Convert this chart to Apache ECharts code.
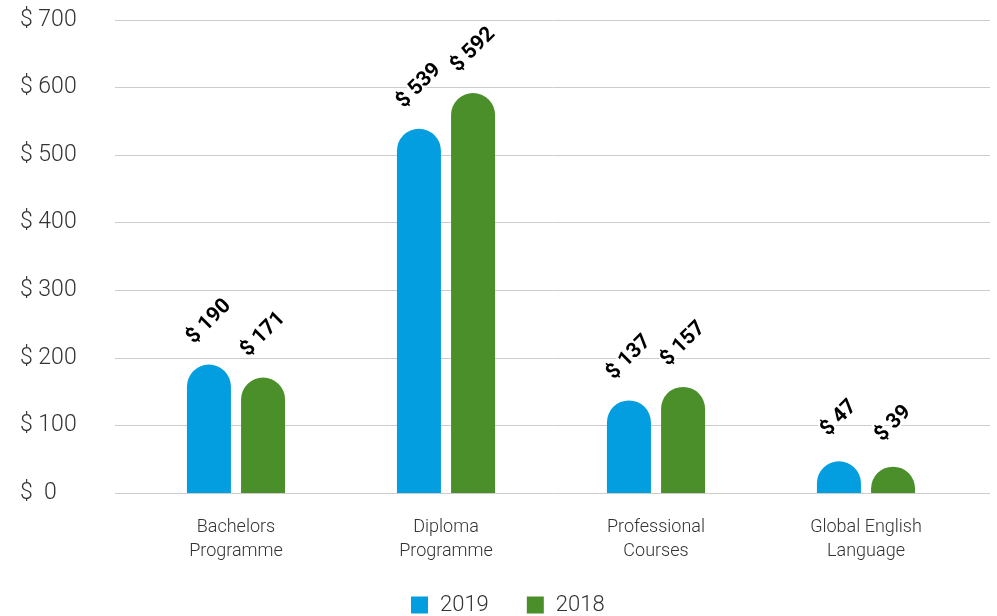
<!DOCTYPE html>
<html>
<head>
<meta charset="utf-8">
<script src="https://cdn.jsdelivr.net/npm/echarts@6/dist/echarts.min.js"></script>
<style>
html, body { margin: 0; padding: 0; background: #fff; }
#chart { width: 997px; height: 616px; }
</style>
</head>
<body>
<div id="chart"></div>
<script>
var categories = ['Bachelors\nProgramme', 'Diploma\nProgramme', 'Professional\nCourses', 'Global English\nLanguage'];
var values2019 = [190, 539, 137, 47];
var values2018 = [171, 592, 157, 39];
var yTicks = [0, 100, 200, 300, 400, 500, 600, 700];

var chart = echarts.init(document.getElementById('chart'));

// labels over the bars
var barLabel = {
	show: true,
	position: 'top',
	distance: 43,
	rotate: 45,
	align: 'center',
	verticalAlign: 'middle',
	formatter: function (p) { return '$ ' + p.value; },
	fontFamily: 'Roboto',
	fontWeight: 'bold',
	fontSize: 21,
	color: '#000',
	textBorderColor: '#fff',
	textBorderWidth: 4
};

var option = {
	animation: false,
	textStyle: { fontFamily: 'Roboto' },
	legend: {
		data: ['2019', '2018'],
		top: 589,
		left: 406,
		icon: 'rect',
		itemWidth: 17,
		itemHeight: 17,
		itemGap: 38,
		textStyle: { fontSize: 22, fontWeight: 300, color: '#333', fontFamily: 'Roboto', padding: [0, 0, 0, 7] }
	},
	grid: [
		{ left: 115, right: 7, top: 20, bottom: 123 },  // gridlines
		{ left: 131, right: 26, top: 20, bottom: 123 }  // bars
	],
	xAxis: [
		{ type: 'category', gridIndex: 0, data: categories, show: false },
		{
			type: 'category', gridIndex: 1, data: categories,
			axisLine: { show: false },
			axisTick: { show: false },
			axisLabel: { fontSize: 18, fontWeight: 300, color: '#333', lineHeight: 24, margin: 22, fontFamily: 'Roboto' }
		}
	],
	yAxis: [
		{
			type: 'value', gridIndex: 0, min: 0, max: 700, interval: 100,
			axisLine: { show: false },
			axisTick: { show: false },
			splitLine: { lineStyle: { color: '#cccccc', width: 1 } },
			axisLabel: {
				align: 'left',
				verticalAlign: 'middle',
				padding: [6, 0, 0, 0],
				margin: 95,
				fontSize: 23,
				fontWeight: 300,
				color: '#333',
				fontFamily: 'Roboto',
				formatter: function (v) { return v === 0 ? '$  0' : '$ ' + v; }
			}
		},
		{
			type: 'value', gridIndex: 1, min: 0, max: 700, interval: 100,
			show: false, splitLine: { show: false }
		}
	],
	series: [
		{
			name: '2019', type: 'bar', xAxisIndex: 1, yAxisIndex: 1,
			data: values2019, barWidth: 44, barGap: '23%',
			itemStyle: { color: '#039ee0', borderRadius: [22, 22, 0, 0] },
			label: barLabel
		},
		{
			name: '2018', type: 'bar', xAxisIndex: 1, yAxisIndex: 1,
			data: values2018, barWidth: 44, barGap: '23%',
			itemStyle: { color: '#4a8f2a', borderRadius: [22, 22, 0, 0] },
			label: barLabel
		}
	]
};

chart.setOption(option);
</script>
</body>
</html>
